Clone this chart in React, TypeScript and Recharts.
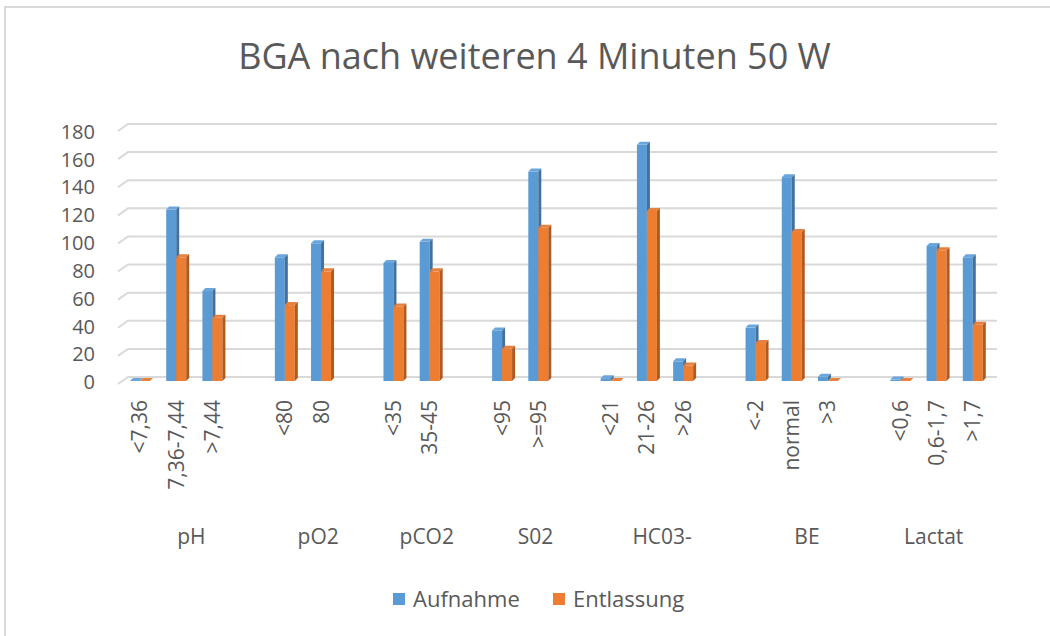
import { Bar, BarChart, CartesianGrid, XAxis, YAxis } from 'recharts'

const TITLE = 'BGA nach weiteren 4 Minuten 50 W'

const groups = ['pH', 'pO2', 'pCO2', 'S02', 'HC03-', 'BE', 'Lactat']
const subLabels = [
  ['<7,36', '7,36-7,44', '>7,44'],
  ['<80', '80'],
  ['<35', '35-45'],
  ['<95', '>=95'],
  ['<21', '21-26', '>26'],
  ['<-2', 'normal', '>3'],
  ['<0,6', '0,6-1,7', '>1,7'],
]
const aufnahme = [[0, 122, 64], [88, 98], [84, 99], [36, 149], [2, 168, 14], [38, 145, 3], [1, 96, 88]]
const entlassung = [[0, 88, 45], [54, 78], [53, 78], [23, 109], [0, 121, 11], [27, 106, 0], [0, 93, 40]]
const yTicks = [0, 20, 40, 60, 80, 100, 120, 140, 160, 180]

const W = 1050
const H = 636
const PLOT_LEFT = 122
const PLOT_RIGHT = 991
const PLOT_TOP = 124
const PLOT_BOTTOM = 377
const FONT = '"Open Sans", "Noto Sans", sans-serif'
const TEXT = '#595959'

type Row = { key: string; sub: string; aufnahme: number | null; entlassung: number | null }

// one blank slot after each group, like the Excel multi-level axis
const rows: Row[] = []
const spans: { name: string; start: number; size: number }[] = []
groups.forEach((g, gi) => {
  const start = rows.length
  subLabels[gi].forEach((s, si) => {
    rows.push({ key: `${g}|${s}`, sub: s, aufnahme: aufnahme[gi][si], entlassung: entlassung[gi][si] })
  })
  if (gi < groups.length - 1) rows.push({ key: `${g}|gap`, sub: '', aufnahme: null, entlassung: null })
  spans.push({ name: g, start, size: rows.length - start })
})

const SLOT = (PLOT_RIGHT - PLOT_LEFT) / rows.length

function Bar3D(props: any) {
  const { x, y, width, height, fill, side, top, value } = props
  if (value == null || x == null) return <g />
  const D = 4 // front face sits a bit lower than the back wall
  const d = 3 // bar depth
  const fy = y + D
  const by = y + height + D
  return (
    <g>
      <rect x={x} y={fy} width={width} height={Math.max(0, height)} fill={fill} />
      <polygon points={`${x},${fy} ${x + d},${fy - d} ${x + width + d},${fy - d} ${x + width},${fy}`} fill={top} />
      <polygon points={`${x + width},${fy} ${x + width + d},${fy - d} ${x + width + d},${by - d} ${x + width},${by}`} fill={side} />
    </g>
  )
}

function GridLine(props: any) {
  const { x1, x2, y1, key } = props
  return (
    <path
      key={key}
      d={`M${x1 - 4},${y1 + 7} L${x1 + 6},${y1} L${x2 + 6},${y1}`}
      stroke="#d9d9d9"
      strokeWidth={2}
      fill="none"
    />
  )
}

function YTick(props: any) {
  const { y, payload } = props
  const v = payload.value as number
  return (
    <text x={95} y={y + 5.3 + 2.4 * (v / 180)} dy="0.35em" textAnchor="end" fill={TEXT} fontSize={20} fontFamily={FONT}>
      {v}
    </text>
  )
}

function CategoryTick(props: any) {
  const { x, payload } = props
  const i = props.index ?? payload.index
  const row = rows[i]
  const span = spans.find((s) => s.start === i)
  return (
    <g>
      {row && row.sub !== '' && (
        <text
          transform={`translate(${x},400) rotate(-90)`}
          dy="0.35em"
          textAnchor="end"
          fill={TEXT}
          fontSize={21}
          fontFamily={FONT}
        >
          {row.sub}
        </text>
      )}
      {span && (
        <text
          x={PLOT_LEFT + SLOT * (span.start + span.size / 2) - 3}
          y={544}
          textAnchor="middle"
          fill={TEXT}
          fontSize={21}
          fontFamily={FONT}
        >
          {span.name}
        </text>
      )}
    </g>
  )
}

export default function App() {
  return (
    <div style={{ position: 'relative', width: W, height: H, overflow: 'hidden', background: '#fff' }}>
      <style>{'body{margin:0;overflow:hidden}'}</style>
      <div
        style={{
          position: 'absolute',
          left: 4,
          top: 6,
          width: W + 40,
          height: H + 40,
          border: '2px solid #d9d9d9',
          boxSizing: 'border-box',
        }}
      />
      <BarChart
        width={W}
        height={H}
        data={rows}
        margin={{ top: PLOT_TOP, right: W - PLOT_RIGHT, bottom: 0, left: 0 }}
        barGap={0}
        style={{ position: 'absolute', left: 0, top: 0 }}
      >
        <CartesianGrid vertical={false} horizontal={GridLine} />
        <XAxis
          dataKey="key"
          interval={0}
          axisLine={false}
          tickLine={false}
          height={H - PLOT_BOTTOM}
          tick={CategoryTick}
        />
        <YAxis
          width={PLOT_LEFT}
          domain={[0, 180]}
          ticks={yTicks}
          interval={0}
          axisLine={false}
          tickLine={false}
          tick={YTick}
        />
        <Bar
          dataKey="aufnahme"
          name="Aufnahme"
          fill="#5B9BD5"
          barSize={10}
          isAnimationActive={false}
          shape={(p: any) => <Bar3D {...p} side="#41719C" top="#6AA6DB" />}
        />
        <Bar
          dataKey="entlassung"
          name="Entlassung"
          fill="#ED7D31"
          barSize={10}
          isAnimationActive={false}
          shape={(p: any) => <Bar3D {...p} side="#AE5A21" top="#E8813D" />}
        />
      </BarChart>
      <svg width={W} height={H} style={{ position: 'absolute', left: 0, top: 0, pointerEvents: 'none' }}>
        <text x={534.5} y={69} textAnchor="middle" fill={TEXT} fontSize={36} fontFamily={FONT}>
          {TITLE}
        </text>
        <rect x={393} y={593} width={12} height={12} fill="#5B9BD5" />
        <text x={413} y={607} fill={TEXT} fontSize={22} fontFamily={FONT}>
          Aufnahme
        </text>
        <rect x={553} y={593} width={12} height={12} fill="#ED7D31" />
        <text x={573} y={607} fill={TEXT} fontSize={22} fontFamily={FONT}>
          Entlassung
        </text>
      </svg>
    </div>
  )
}
